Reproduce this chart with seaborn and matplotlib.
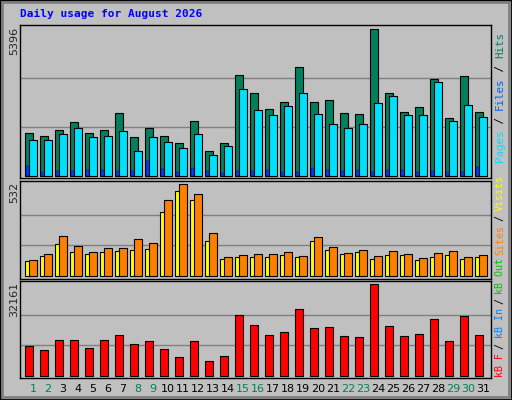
import numpy as np
import pandas as pd
import matplotlib
matplotlib.use("Agg")
import matplotlib.pyplot as plt
import seaborn as sns
from matplotlib.patches import Rectangle

days = list(range(1, 32))
weekend = [1, 2, 8, 9, 15, 16, 22, 23, 29, 30]

hits = [1580, 1468, 1689, 1982, 1580, 1689, 2313, 1432, 1762, 1468, 1211, 2019, 918, 1211, 3707, 3047,
        2459, 2716, 4001, 2716, 2790, 2313, 2276, 5396, 3047, 2349, 2533, 3561, 2129, 3671, 2349]
files = [1322, 1322, 1542, 1762, 1432, 1468, 1652, 918, 1432, 1248, 1028, 1542, 771, 1101, 3194, 2423,
         2239, 2570, 3047, 2276, 1909, 1762, 1909, 2680, 2937, 2239, 2239, 3451, 2019, 2606, 2166]
pages = [379, 147, 184, 184, 220, 220, 184, 184, 551, 257, 147, 294, 184, 110, 184, 184,
         220, 147, 147, 294, 220, 184, 220, 147, 220, 220, 147, 184, 147, 147, 330]
visits = [87, 116, 185, 139, 127, 139, 145, 150, 156, 370, 492, 439, 202, 98, 110, 110,
          110, 121, 110, 202, 150, 127, 139, 98, 121, 121, 93, 110, 121, 98, 110]
sites = [93, 127, 231, 173, 139, 162, 162, 214, 191, 439, 532, 474, 249, 110, 121, 127,
         127, 139, 116, 226, 168, 133, 150, 116, 145, 127, 104, 133, 145, 110, 121]
kbytes = [10329, 8921, 12442, 12442, 9625, 12442, 14202, 11033, 12090, 9273, 6808, 12090, 5399, 7160,
          21245, 17724, 14202, 15259, 23358, 16667, 17019, 13850, 13498, 32161, 17372, 13850, 14555,
          19837, 12090, 20893, 14202]

W, H = 512, 400
BG = "#C0C0C0"
sns.set_style("white")
plt.rcParams["font.family"] = ["DejaVu Sans"]

fig = plt.figure(figsize=(W / 100, H / 100), dpi=100, facecolor=BG)


def px_axes(x0, y0, x1, y1):
    return fig.add_axes([x0 / W, 1 - y1 / H, (x1 - x0) / W, (y1 - y0) / H])


def fx(x):
    return x / W


def fy(y):
    return 1 - y / H


x = np.array(days) - 1
u = 1 / 15.0


def panel(ax, top_px, base_px, frame_top, frame_bot, vmax):
    scale = vmax / (base_px - top_px)
    ax.set_ylim(-(frame_bot - base_px) * scale, vmax + (top_px - frame_top) * scale)
    ax.set_xlim(0, 471 * u)
    ax.set_facecolor(BG)
    for g in (vmax / 3, 2 * vmax / 3):
        ax.axhline(g, color="#808080", lw=1, zorder=0)
    ax.set_xticks([])
    ax.set_yticks([])
    for s in ax.spines.values():
        s.set_color("black")
        s.set_linewidth(1)


ax1 = px_axes(20, 25, 491, 178)
panel(ax1, 29, 176, 25, 178, 5396)
ax1.bar(x + 5 * u, hits, width=8 * u, align="edge", color="#00805C", edgecolor="black", lw=0.8)
ax1.bar(x + 9 * u, files, width=8 * u, align="edge", color="#00E0FF", edgecolor="black", lw=0.8)
ax1.bar(x + 6 * u, pages, width=2.5 * u, align="edge", color="#0040FF", edgecolor="#000040", lw=0.3,
        zorder=3)

ax2 = px_axes(20, 181, 491, 279)
panel(ax2, 184, 276, 181, 279, 532)
ax2.bar(x + 5 * u, visits, width=8 * u, align="edge", color="#FFFF00", edgecolor="black", lw=0.8)
ax2.bar(x + 9 * u, sites, width=8 * u, align="edge", color="#FF8000", edgecolor="black", lw=0.8)

ax3 = px_axes(20, 281, 491, 378)
panel(ax3, 284, 376, 281, 378, 32161)
df = pd.DataFrame({"pos": x + 9 * u, "kB": kbytes})
ax3.bar(df["pos"], df["kB"], width=8 * u, color="#FF0000", edgecolor="black", lw=0.8)

# max value labels on the left
for val, ytop in [("5396", 27), ("532", 182), ("32161", 282)]:
    fig.text(fx(14), fy(ytop), val, rotation=90, ha="center", va="top", fontsize=8)

# day labels
for d in days:
    fig.text(fx(20 + (d - 1) * 15 + 13), fy(389), str(d), ha="center", va="center", fontsize=8,
             color="#00805C" if d in weekend else "black")

fig.text(fx(20), fy(14), "Daily usage for August 2026", fontsize=8, fontweight="bold",
         family="DejaVu Sans Mono", color="#0000FF", ha="left", va="center")


def side_label(parts, y_start, cw, fs):
    # parts stacked bottom to top, rotated 90 degrees
    y = y_start
    for txt, col in parts:
        fig.text(fx(500), fy(y), txt, rotation=90, ha="center", va="bottom",
                 family="DejaVu Sans Mono", fontsize=fs, color=col)
        y -= len(txt) * cw


side_label([("Pages", "#00E0FF"), (" / ", "black"), ("Files", "#0060FF"), (" / ", "black"),
            ("Hits", "#00805C")], 162, 6.5, 7.8)
side_label([("kB F", "#FF0000"), (" / ", "black"), ("kB In", "#0080FF"), (" / ", "black"),
            ("kB Out", "#00C000"), (" ", "black"), ("Sites", "#FF8000"), (" / ", "black"),
            ("Visits", "#FFFF00")], 377, 5.55, 7.2)

# 3d-ish outer border
fig.patches.append(Rectangle((0, 0), 1, 1, transform=fig.transFigure, fill=False,
                             edgecolor="black", lw=2))
fig.patches.append(Rectangle((fx(2), fy(397)), fx(507), fy(2) - fy(397), transform=fig.transFigure,
                             fill=False, edgecolor="#808080", lw=2))

fig.savefig("out.png", dpi=100, facecolor=BG)
